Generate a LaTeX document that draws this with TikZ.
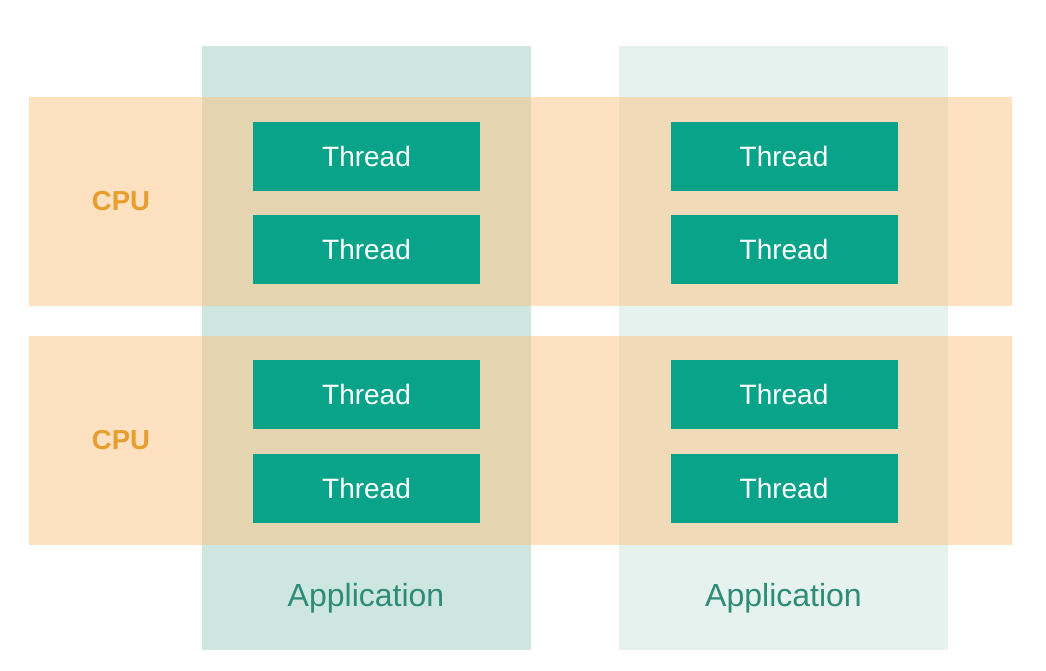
\documentclass[tikz,border=0pt]{standalone}
\usepackage{fontspec}
\setmainfont{Liberation Sans}
\definecolor{appdark}{RGB}{205,231,224}
\definecolor{applight}{RGB}{229,242,238}
\definecolor{cpuorange}{RGB}{251,195,129}
\definecolor{threadgreen}{RGB}{8,163,137}
\definecolor{cputext}{RGB}{232,158,46}
\definecolor{apptext}{RGB}{45,140,120}
\begin{document}
\begin{tikzpicture}[x=1pt,y=-1pt]
    \tikzstyle{app} = [rectangle, minimum width=329pt, minimum height=604pt, inner sep=0pt]
    \tikzstyle{cpu} = [rectangle, fill=cpuorange, fill opacity=0.5, minimum width=983pt, minimum height=209pt, inner sep=0pt]
    \tikzstyle{thread} = [rectangle, fill=threadgreen, text=white, minimum width=227pt, minimum height=69pt, inner sep=0pt, font=\fontsize{28}{32}\selectfont]
    \tikzstyle{cpu_label} = [text=cputext, font=\bfseries\fontsize{27.5}{32}\selectfont]
    \tikzstyle{app_label} = [text=apptext, font=\fontsize{32}{36}\selectfont]

    \useasboundingbox (0,0) rectangle (1046,670);

      \draw
        (366, 348) node[app, fill=appdark] (app1){}
        (783.5, 348) node[app, fill=applight] (app2){}
        (520.5, 201) node[cpu] (cpu1){}
        (520.5, 440) node[cpu] (cpu2){}
        (121, 201) node[cpu_label] (c1){CPU}
        (121, 440) node[cpu_label] (c2){CPU};

      \draw
        (366.5, 156) node[thread] (t1){Thread}
        (366.5, 249) node[thread] (t2){Thread}
        (366.5, 394.5) node[thread] (t3){Thread}
        (366.5, 488) node[thread] (t4){Thread}
        (784, 156) node[thread] (t5){Thread}
        (784, 249) node[thread] (t6){Thread}
        (784, 394.5) node[thread] (t7){Thread}
        (784, 488) node[thread] (t8){Thread};

      \draw
        (366, 598) node[app_label] (a1){Application}
        (783.5, 598) node[app_label] (a2){Application};
    \end{tikzpicture}
\end{document}
